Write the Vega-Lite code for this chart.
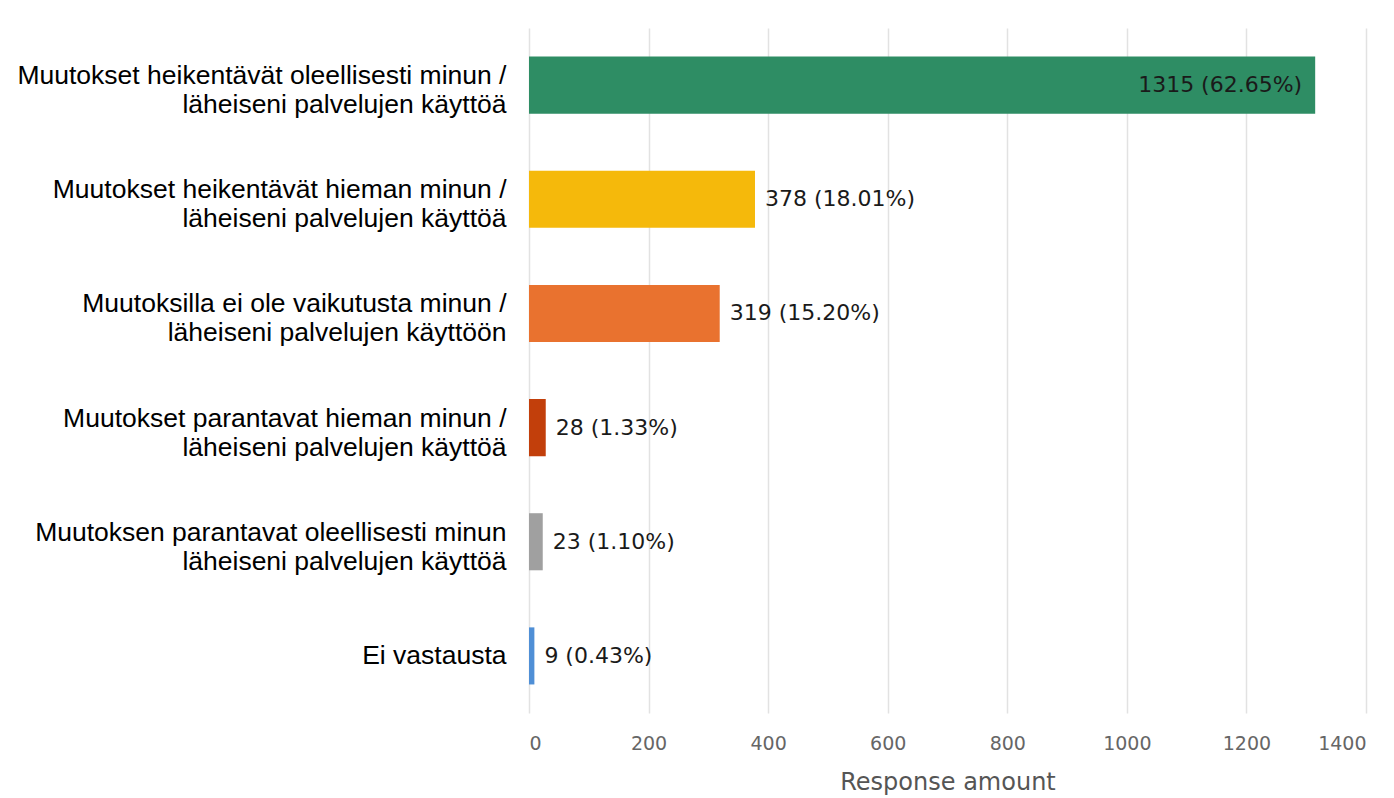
{
  "$schema": "https://vega.github.io/schema/vega-lite/v6.json",
  "autosize": "none",
  "width": 837,
  "height": 685,
  "padding": {"left": 529, "top": 28, "right": 28, "bottom": 85},
  "background": "white",
  "config": {"view": {"stroke": null}},
  "data": {"values": [
    {"category": "Muutokset heikentävät oleellisesti minun /|läheiseni palvelujen käyttöä", "value": 1315, "label": "1315 (62.65%)"},
    {"category": "Muutokset heikentävät hieman minun /|läheiseni palvelujen käyttöä", "value": 378, "label": "378 (18.01%)"},
    {"category": "Muutoksilla ei ole vaikutusta minun /|läheiseni palvelujen käyttöön", "value": 319, "label": "319 (15.20%)"},
    {"category": "Muutokset parantavat hieman minun /|läheiseni palvelujen käyttöä", "value": 28, "label": "28 (1.33%)"},
    {"category": "Muutoksen parantavat oleellisesti minun|läheiseni palvelujen käyttöä", "value": 23, "label": "23 (1.10%)"},
    {"category": "Ei vastausta", "value": 9, "label": "9 (0.43%)"}
  ]},
  "encoding": {
    "y": {
      "field": "category", "type": "nominal", "sort": null,
      "scale": {"paddingInner": 0.5, "paddingOuter": 0.25},
      "axis": {
        "title": null, "domain": false, "ticks": false, "grid": false,
        "labelExpr": "split(datum.label, '|')",
        "labelFont": "Liberation Sans", "labelFontSize": 26.5, "labelColor": "#000000",
        "labelLineHeight": 29, "labelPadding": 23, "labelLimit": 700,
        "labelOffset": {"condition": {"test": "indexof(datum.value, '|') >= 0", "value": -9}, "value": 0}
      }
    }
  },
  "layer": [
    {
      "mark": {"type": "bar"},
      "encoding": {
        "x": {
          "field": "value", "type": "quantitative",
          "scale": {"domain": [0, 1400], "nice": false},
          "axis": {
            "title": "Response amount", "titleFont": "DejaVu Sans", "titleFontSize": 24,
            "titleFontWeight": "normal", "titleColor": "#555555", "titlePadding": 17,
            "values": [0, 200, 400, 600, 800, 1000, 1200, 1400], "format": "d",
            "labelFont": "DejaVu Sans", "labelFontSize": 19, "labelColor": "#666666",
            "labelPadding": 21, "domain": false, "ticks": false,
            "grid": true, "gridColor": "#e2e2e2", "gridWidth": 1.5
          }
        },
        "color": {
          "field": "category", "type": "nominal", "sort": null, "legend": null,
          "scale": {"range": ["#2e8d64", "#f5b90b", "#e9722f", "#c23f0b", "#a0a0a0", "#4f8fd6"]}
        }
      }
    },
    {
      "mark": {"type": "rule", "color": "#c8d6f0", "strokeWidth": 2},
      "encoding": {"x": {"datum": 0, "type": "quantitative"}}
    },
    {
      "transform": [{"filter": "datum.value > 1000"}],
      "mark": {"type": "text", "align": "right", "baseline": "middle", "dx": -13, "font": "DejaVu Sans", "fontSize": 22, "color": "#1a1a1a"},
      "encoding": {
        "x": {"field": "value", "type": "quantitative"},
        "text": {"field": "label"}
      }
    },
    {
      "transform": [{"filter": "datum.value <= 1000"}],
      "mark": {"type": "text", "align": "left", "baseline": "middle", "dx": 10, "font": "DejaVu Sans", "fontSize": 22, "color": "#1a1a1a"},
      "encoding": {
        "x": {"field": "value", "type": "quantitative"},
        "text": {"field": "label"}
      }
    }
  ]
}
